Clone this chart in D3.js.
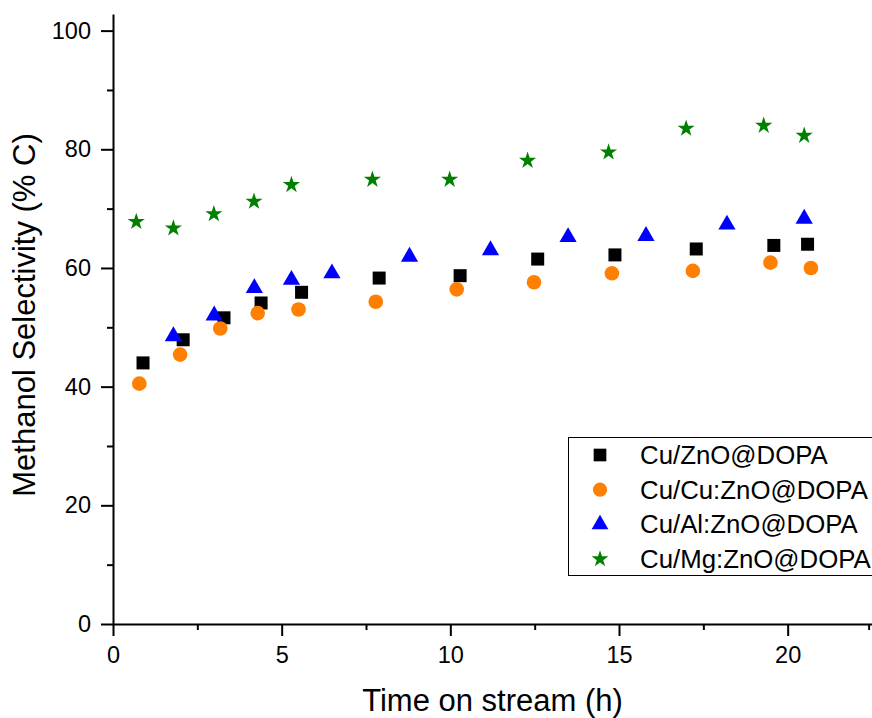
<!DOCTYPE html>
<html>
<head>
<meta charset="utf-8">
<script src="https://cdn.jsdelivr.net/npm/d3@7"></script>
<style>
  body { margin: 0; background: #fff; }
  svg { display: block; font-family: Arial, "Liberation Sans", sans-serif; }
</style>
</head>
<body>
<div id="chart"></div>
<script>
// Data
const timeCuZnO   = [0.89, 2.08, 3.29, 4.39, 5.59, 7.89, 10.29, 12.59, 14.88, 17.29, 19.59, 20.59];
const selCuZnO    = [44.0, 47.9, 51.6, 54.1, 55.9, 58.3, 58.7, 61.5, 62.2, 63.2, 63.8, 64.0];

const timeCuCu    = [0.78, 1.99, 3.18, 4.29, 5.50, 7.79, 10.19, 12.48, 14.79, 17.19, 19.49, 20.69];
const selCuCu     = [40.5, 45.4, 49.8, 52.4, 53.0, 54.3, 56.4, 57.6, 59.1, 59.5, 60.9, 60.0];

const timeCuAl    = [1.79, 3.00, 4.19, 5.29, 6.49, 8.79, 11.19, 13.49, 15.80, 18.20, 20.49];
const selCuAl     = [48.5, 52.0, 56.6, 58.0, 59.1, 61.9, 63.0, 65.2, 65.4, 67.3, 68.3];

const timeCuMg    = [0.69, 1.79, 2.99, 4.18, 5.29, 7.69, 9.98, 12.29, 14.69, 16.99, 19.29, 20.49];
const selCuMg     = [67.8, 66.7, 69.1, 71.2, 74.0, 74.9, 74.9, 78.1, 79.5, 83.5, 84.0, 82.3];

const seriesNames = ["Cu/ZnO@DOPA", "Cu/Cu:ZnO@DOPA", "Cu/Al:ZnO@DOPA", "Cu/Mg:ZnO@DOPA"];
const xTicks = [0, 5, 10, 15, 20];
const yTicks = [0, 20, 40, 60, 80, 100];

const series = [
  { name: seriesNames[0], t: timeCuZnO, v: selCuZnO, color: "#000000", symbol: d3.symbolSquare,   size: 169 },
  { name: seriesNames[1], t: timeCuCu,  v: selCuCu,  color: "#FF8000", symbol: d3.symbolCircle,   size: 168 },
  { name: seriesNames[2], t: timeCuAl,  v: selCuAl,  color: "#0000FF", symbol: d3.symbolTriangle, size: 128 },
  { name: seriesNames[3], t: timeCuMg,  v: selCuMg,  color: "#008000", symbol: d3.symbolStar,     size: 92 }
];

const width = 872, height = 718;
const plot = { left: 113, right: 872, top: 14, bottom: 624 };

const svg = d3.select("#chart")
  .append("svg")
  .attr("width", width)
  .attr("height", height);

const x = d3.scaleLinear().domain([0, 22.5]).range([plot.left, plot.right]);
const y = d3.scaleLinear().domain([0, 102.8]).range([plot.bottom, plot.top]);

// X axis (major + minor ticks)
const xAxis = svg.append("g")
  .attr("transform", `translate(0,${plot.bottom})`)
  .call(d3.axisBottom(x).tickValues(xTicks).tickSize(12).tickSizeOuter(0).tickPadding(10));
svg.append("g")
  .attr("transform", `translate(0,${plot.bottom})`)
  .call(d3.axisBottom(x).tickValues([2.5, 7.5, 12.5, 17.5, 22.4]).tickSize(6).tickFormat(""))
  .call(g => g.select(".domain").remove());

// Y axis (major + minor ticks)
const yAxis = svg.append("g")
  .attr("transform", `translate(${plot.left},0)`)
  .call(d3.axisLeft(y).tickValues(yTicks).tickSize(12).tickSizeOuter(0).tickPadding(10));
svg.append("g")
  .attr("transform", `translate(${plot.left},0)`)
  .call(d3.axisLeft(y).tickValues([10, 30, 50, 70, 90]).tickSize(6).tickFormat(""))
  .call(g => g.select(".domain").remove());

svg.selectAll(".domain, .tick line")
  .attr("stroke", "#000")
  .attr("stroke-width", 2);
svg.selectAll(".tick text")
  .attr("fill", "#000")
  .style("font-size", "23.5px");
xAxis.selectAll(".tick text").attr("dy", "0.71em");

// Axis titles
svg.append("text")
  .attr("x", (plot.left + plot.right) / 2)
  .attr("y", 711)
  .attr("text-anchor", "middle")
  .style("font-size", "31px")
  .text("Time on stream (h)");

svg.append("text")
  .attr("transform", `translate(35,${(plot.top + plot.bottom) / 2 - 4}) rotate(-90)`)
  .attr("text-anchor", "middle")
  .style("font-size", "31px")
  .text("Methanol Selectivity (% C)");

// Points
series.forEach(s => {
  svg.append("g")
    .selectAll("path")
    .data(s.t.map((t, i) => ({ t: t, v: s.v[i] })))
    .join("path")
    .attr("transform", d => `translate(${x(d.t)},${y(d.v)})`)
    .attr("d", d3.symbol().type(s.symbol).size(s.size))
    .attr("fill", s.color);
});

// Legend
const legend = svg.append("g");
legend.append("rect")
  .attr("x", 568.5)
  .attr("y", 437.5)
  .attr("width", 320)
  .attr("height", 138)
  .attr("fill", "#fff")
  .attr("stroke", "#000")
  .attr("stroke-width", 1);

series.forEach((s, i) => {
  const cy = 455 + i * 34.7;
  legend.append("path")
    .attr("transform", `translate(600,${cy})`)
    .attr("d", d3.symbol().type(s.symbol).size(s.size * 0.95))
    .attr("fill", s.color);
  legend.append("text")
    .attr("x", 640)
    .attr("y", cy + 9)
    .style("font-size", "25.8px")
    .text(s.name);
});
</script>
</body>
</html>
